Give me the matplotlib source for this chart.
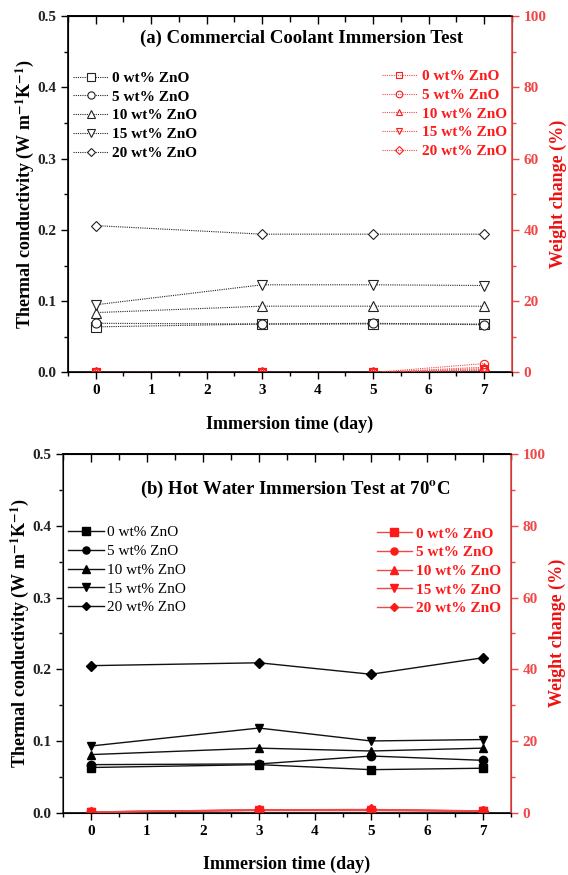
import matplotlib
matplotlib.use("Agg")
import matplotlib.pyplot as plt
from matplotlib.ticker import MultipleLocator

plt.rcParams['font.family'] = ['Liberation Serif', 'DejaVu Serif']
plt.rcParams['mathtext.fontset'] = 'stix'

days = [0, 3, 5, 7]
labels = ['0 wt% ZnO', '5 wt% ZnO', '10 wt% ZnO', '15 wt% ZnO', '20 wt% ZnO']
open_markers = ['s', 'o', '^', 'v', 'D']

# (a) commercial coolant
tc_a = [
    [0.064, 0.068, 0.068, 0.068],
    [0.069, 0.068, 0.069, 0.067],
    [0.084, 0.093, 0.093, 0.093],
    [0.095, 0.123, 0.123, 0.122],
    [0.206, 0.194, 0.194, 0.194],
]
wc_a = [
    [0.0, 0.0, 0.0, 0.8],
    [0.0, 0.0, 0.0, 2.5],
    [0.0, 0.0, 0.0, 1.5],
    [0.0, 0.0, 0.0, 1.1],
    [0.0, 0.0, 0.0, 0.6],
]

# (b) hot water 70C
tc_b = [
    [0.063, 0.067, 0.060, 0.062],
    [0.067, 0.068, 0.079, 0.073],
    [0.081, 0.090, 0.086, 0.090],
    [0.093, 0.118, 0.100, 0.102],
    [0.205, 0.209, 0.193, 0.216],
]
wc_b = [
    [0.2, 0.6, 0.6, 0.4],
    [0.2, 0.7, 0.7, 0.5],
    [0.2, 0.8, 0.8, 0.5],
    [0.2, 0.7, 0.8, 0.4],
    [0.2, 0.8, 0.9, 0.5],
]

RED = '#ff1a1a'
RED_AX = '#f04848'

fig = plt.figure(figsize=(5.68, 8.75), dpi=100)


def setup(ax, ax2, title, tx, ty, left_color):
    ax.set_xlim(-0.5, 7.5)
    ax.set_ylim(0, 0.5)
    ax2.set_ylim(0, 100)
    ax.xaxis.set_major_locator(MultipleLocator(1))
    ax.xaxis.set_minor_locator(MultipleLocator(0.5))
    ax.yaxis.set_major_locator(MultipleLocator(0.1))
    ax.yaxis.set_minor_locator(MultipleLocator(0.05))
    ax2.yaxis.set_major_locator(MultipleLocator(20))
    ax2.yaxis.set_minor_locator(MultipleLocator(10))
    ax.tick_params(which='major', length=5, width=1, labelsize=11, direction='out')
    ax.tick_params(which='minor', length=3, width=1, direction='out')
    ax.tick_params(axis='y', colors='black', labelcolor='#222222')
    ax.spines['left'].set_color(left_color)
    ax.spines['left'].set_linewidth(1.2)
    ax.spines['bottom'].set_linewidth(1.2)
    ax.spines['top'].set_linewidth(1.2)
    for lab in ax.get_xticklabels() + ax.get_yticklabels():
        lab.set_fontweight('bold')
    top = ax.secondary_xaxis('top')
    top.xaxis.set_major_locator(MultipleLocator(1))
    top.xaxis.set_minor_locator(MultipleLocator(0.5))
    top.tick_params(which='major', direction='in', length=6, width=1, labeltop=False)
    top.tick_params(which='minor', direction='in', length=4, width=1)
    top.spines['top'].set_linewidth(1.2)
    ax2.spines['right'].set_color(RED_AX)
    ax2.spines['right'].set_linewidth(1.2)
    ax2.tick_params(axis='y', which='major', colors=RED_AX, length=5, width=1, labelsize=11)
    ax2.tick_params(axis='y', which='minor', colors=RED_AX, length=3, width=1)
    for lab in ax2.get_yticklabels():
        lab.set_fontweight('bold')
    ax.set_xlabel('Immersion time (day)', fontsize=13, fontweight='bold', labelpad=13)
    ax.set_ylabel('Thermal conductivity (W m$^{\\mathbf{-1}}$K$^{\\mathbf{-1}}$)',
                  fontsize=13, fontweight='bold', labelpad=1)
    ax2.set_ylabel('Weight change (%)', fontsize=13, fontweight='bold', color='#ee1111', labelpad=2)
    ax.text(tx, ty, title, transform=ax.transAxes, ha='center', va='center',
            fontsize=13.5, fontweight='bold')


# panel (a)
ax = fig.add_axes([0.1197, 0.5743, 0.7817, 0.4074])
ax2 = ax.twinx()
for i in range(5):
    ax.plot(days, tc_a[i], linestyle=(0, (1, 1)), lw=0.8, color='#222222',
            marker=open_markers[i], ms=6.5 if open_markers[i] != 'D' else 5.5,
            mfc='white', mec='#222222', mew=0.8, label=labels[i])
    ax2.plot(days, wc_a[i], linestyle=(0, (1, 1)), lw=0.8, color=RED_AX,
             marker=open_markers[i], ms=6 if open_markers[i] != 'D' else 5,
             mfc='none', mec=RED, mew=0.8, label=labels[i])
setup(ax, ax2, '(a) Commercial Coolant Immersion Test', 0.527, 0.938, 'black')
leg = ax.legend(loc='upper left', bbox_to_anchor=(0.012, 0.845), frameon=False,
                borderpad=0, borderaxespad=0, handlelength=2.3, handletextpad=0.25,
                labelspacing=0.33, markerscale=0.8, prop={'size': 11, 'weight': 'bold'})
leg2 = ax2.legend(loc='upper left', bbox_to_anchor=(0.707, 0.85), frameon=False,
                  borderpad=0, borderaxespad=0, handlelength=2.3, handletextpad=0.3,
                  labelspacing=0.33, markerscale=0.8, prop={'size': 11, 'weight': 'bold'})
for t in leg2.get_texts():
    t.set_color(RED)

# panel (b)
bx = fig.add_axes([0.1109, 0.0712, 0.7887, 0.4099])
bx2 = bx.twinx()
for i in range(5):
    bx.plot(days, tc_b[i], linestyle='-', lw=1.0, color='#111111',
            marker=open_markers[i], ms=6 if open_markers[i] != 'D' else 5,
            mfc='black', mec='black', label=labels[i])
    bx2.plot(days, wc_b[i], linestyle='-', lw=1.0, color=RED_AX,
             marker=open_markers[i], ms=6 if open_markers[i] != 'D' else 5,
             mfc=RED, mec=RED, label=labels[i])
setup(bx, bx2, '(b) Hot Water Immersion Test at 70$^{\\mathbf{o}}$C', 0.518, 0.9, '#555555')
legb = bx.legend(loc='upper left', bbox_to_anchor=(0.012, 0.8), frameon=False,
                 borderpad=0, borderaxespad=0, handlelength=2.3, handletextpad=0.25,
                 labelspacing=0.33, markerscale=0.85, prop={'size': 11})
legb2 = bx2.legend(loc='upper left', bbox_to_anchor=(0.7, 0.797), frameon=False,
                   borderpad=0, borderaxespad=0, handlelength=2.3, handletextpad=0.3,
                   labelspacing=0.33, markerscale=0.85, prop={'size': 11, 'weight': 'bold'})
for t in legb2.get_texts():
    t.set_color(RED)

fig.savefig('out.png', dpi=100)
